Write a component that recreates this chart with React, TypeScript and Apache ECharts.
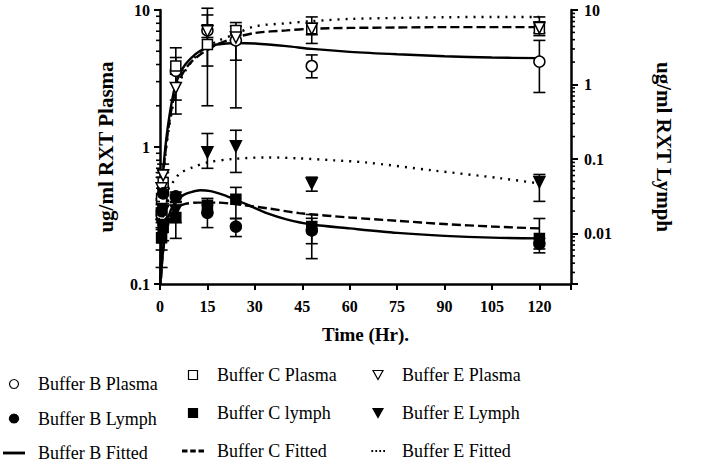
import React, { useEffect, useRef } from 'react';
import * as echarts from 'echarts';

// ---------- data ----------
const times = [0.5, 1, 5, 15, 24, 48, 120];

// Plasma (left axis, ug/ml)
const bPlasma = [0.32, 0.5, 3.6, 7.1, 6.0, 3.9, 4.2];
const bPlasmaLow = [0.25, 0.4, 2.2, 3.9, 4.3, 3.2, 2.5];
const bPlasmaHigh = [0.42, 0.65, 5.3, 10.3, 7.6, 4.7, 6.0];
const cPlasma = [0.42, 0.55, 3.9, 5.6, 7.1, 7.3, 7.3];
const cPlasmaLow = [0.3, 0.45, 3.4, 2.0, 6.0, 5.7, 6.8];
const cPlasmaHigh = [0.6, 0.68, 4.5, 9.2, 8.1, 8.9, 8.9];
const ePlasma = [0.5, 0.62, 2.7, 7.0, 6.3, 7.3, 7.4];
const ePlasmaLow = [0.38, 0.5, 1.74, 6.3, 1.93, 6.6, 6.5];
const ePlasmaHigh = [0.65, 0.75, 3.5, 7.8, 7.6, 8.0, 8.2];

// Lymph (right axis, ug/ml)
const bLymph = [0.02, 0.0345, 0.0315, 0.019, 0.0124, 0.011, 0.0073];
const bLymphLow = [0.012, 0.025, 0.027, 0.012, 0.0091, 0.0046, 0.0062];
const bLymphHigh = [0.028, 0.042, 0.036, 0.024, 0.0159, 0.016, 0.0086];
const cLymph = [0.0088, 0.012, 0.0164, 0.024, 0.0288, 0.0124, 0.0086];
const cLymphLow = [0.0035, 0.008, 0.0086, 0.019, 0.0159, 0.0073, 0.0055];
const cLymphHigh = [0.014, 0.017, 0.0238, 0.0296, 0.0416, 0.018, 0.0159];
const eLymph = [0.013, 0.02, 0.0204, 0.123, 0.148, 0.047, 0.049];
const eLymphLow = [0.006, 0.013, 0.014, 0.075, 0.066, 0.037, 0.027];
const eLymphHigh = [0.022, 0.028, 0.026, 0.22, 0.243, 0.057, 0.062];

// Fitted curves (time, value)
const bFitPlasma = [[0.05, 0.1], [0.3, 0.2], [0.7, 0.45], [1.2, 0.75], [2, 1.15], [3, 1.7], [4, 2.3], [5, 2.9], [6.5, 3.5], [8, 4.0], [10, 4.5], [12.5, 5.0], [15, 5.3], [18, 5.6], [24, 5.75], [30, 5.7], [40, 5.45], [48, 5.2], [60, 4.95], [75, 4.75], [90, 4.6], [105, 4.5], [120, 4.45]];
const cFitPlasma = [[0.05, 0.1], [0.3, 0.18], [0.7, 0.4], [1.2, 0.7], [2, 1.05], [3, 1.55], [4, 2.1], [5, 2.6], [6.5, 3.2], [8, 3.7], [10, 4.2], [12.5, 4.7], [15, 5.1], [18, 5.6], [24, 6.3], [30, 6.8], [40, 7.1], [48, 7.3], [60, 7.4], [75, 7.45], [90, 7.5], [105, 7.5], [120, 7.5]];
const eFitPlasma = [[0.05, 0.1], [0.3, 0.17], [0.7, 0.38], [1.2, 0.65], [2, 1.0], [3, 1.45], [4, 1.95], [5, 2.5], [6.5, 3.1], [8, 3.6], [10, 4.2], [12.5, 4.9], [15, 5.4], [18, 5.9], [24, 6.7], [30, 7.6], [40, 8.0], [48, 8.3], [60, 8.6], [75, 8.75], [90, 8.85], [105, 8.9], [120, 8.9]];
const bFitLymph = [[0.3, 0.0025], [1, 0.006], [2.2, 0.0136], [3.5, 0.021], [5.3, 0.0278], [7.5, 0.033], [9.5, 0.0356], [12.7, 0.038], [16, 0.037], [20, 0.033], [23, 0.0295], [28, 0.024], [34, 0.0186], [40, 0.0155], [48, 0.0132], [60, 0.0117], [75, 0.0102], [90, 0.0093], [105, 0.0088], [120, 0.0086]];
const cFitLymph = [[0.3, 0.0025], [1, 0.006], [2.5, 0.013], [4, 0.019], [5.3, 0.0224], [8, 0.025], [12, 0.026], [18, 0.026], [23, 0.025], [34, 0.0218], [44, 0.0188], [60, 0.0164], [75, 0.0148], [90, 0.0134], [105, 0.0124], [120, 0.0117]];
const eFitLymph = [[0.3, 0.015], [1.5, 0.032], [3, 0.042], [5, 0.055], [6.3, 0.0645], [10.5, 0.078], [15, 0.09], [23, 0.1], [34, 0.105], [44, 0.102], [55, 0.096], [65, 0.09], [86, 0.0705], [108, 0.055], [120, 0.047]];

// axis ticks
const xTicks = [0, 15, 30, 45, 60, 75, 90, 105, 120];
const xMin = 0;
const xMax = 130;
const xInterval = 15;
const leftMin = 0.1;
const leftMax = 10;
const rightMin = 0.0021;
const rightMax = 10;
const leftMinor = [0.2, 0.3, 0.4, 0.5, 0.6, 0.7, 0.8, 0.9, 2, 3, 4, 5, 6, 7, 8, 9];
const rightMinor = [0.003, 0.004, 0.005, 0.006, 0.007, 0.008, 0.009, 0.02, 0.03, 0.04, 0.05, 0.06, 0.07, 0.08, 0.09, 0.2, 0.3, 0.4, 0.5, 0.6, 0.7, 0.8, 0.9, 2, 3, 4, 5, 6, 7, 8, 9];

const FONT = 'Liberation Serif';

// legend icons
const ICON_CIRCLE = 'path://M5,0A5,5,0,1,1,4.999,0Z';
const ICON_SQUARE = 'path://M0,0L10,0L10,10L0,10Z';
const ICON_TRI_DOWN = 'path://M0,0L10,0L5,9Z';
const ICON_SOLID = 'path://M0,0L20,0L20,2.6L0,2.6Z';
const ICON_DASHED = 'path://M0,0L5,0L5,2.6L0,2.6Z M7.5,0L12.5,0L12.5,2.6L7.5,2.6Z M15,0L20,0L20,2.6L15,2.6Z';
const ICON_DOTTED = 'path://M4,0L5.6,0L5.6,1.8L4,1.8Z M7.6,0L9.2,0L9.2,1.8L7.6,1.8Z M11.2,0L12.8,0L12.8,1.8L11.2,1.8Z M14.8,0L16.4,0L16.4,1.8L14.8,1.8Z M0,0L0.01,0L0.01,0.01Z M20,0L20.01,0L20.01,0.01Z';

function pairs(vals: number[]) {
  return times.map((t, i) => [t, vals[i]]);
}
function bars(lo: number[], hi: number[]) {
  return times.map((t, i) => [t, lo[i], hi[i]]);
}

const errorRender = (params: any, api: any) => {
  const x = api.value(0);
  const pLo = api.coord([x, api.value(1)]);
  const pHi = api.coord([x, api.value(2)]);
  const w = 6;
  const st = { stroke: '#000', lineWidth: 1.6 };
  return {
    type: 'group',
    children: [
      { type: 'line', shape: { x1: pLo[0], y1: pLo[1], x2: pHi[0], y2: pHi[1] }, style: st },
      { type: 'line', shape: { x1: pLo[0] - w, y1: pLo[1], x2: pLo[0] + w, y2: pLo[1] }, style: st },
      { type: 'line', shape: { x1: pHi[0] - w, y1: pHi[1], x2: pHi[0] + w, y2: pHi[1] }, style: st },
    ],
  };
};

const minorRender = (dir: number) => (params: any, api: any) => {
  const p = api.coord([api.value(0), api.value(1)]);
  return {
    type: 'line',
    shape: { x1: p[0], y1: p[1], x2: p[0] + dir * 4, y2: p[1] },
    style: { stroke: '#000', lineWidth: 1.6 },
  };
};

function fmtPow10(v: number) {
  const l = Math.log10(v);
  if (Math.abs(l - Math.round(l)) > 1e-6) return '';
  return String(Number(v.toPrecision(6)));
}

export default function App() {
  const ref = useRef<HTMLDivElement>(null);
  useEffect(() => {
    if (!ref.current) return;
    const chart = echarts.init(ref.current, undefined, { renderer: 'svg' });

    const fitLine = (name: string, data: number[][], yIdx: number, type: any) => ({
      name,
      type: 'line',
      yAxisIndex: yIdx,
      data,
      symbol: 'none',
      showSymbol: false,
      smooth: 0.3,
      silent: true,
      z: 2,
      itemStyle: { color: '#000' },
      lineStyle: { color: '#000', width: 2.4, type, cap: type === 'dotted' ? 'round' : 'butt' },
    });
    const errSeries = (data: number[][], yIdx: number) => ({
      type: 'custom',
      yAxisIndex: yIdx,
      data,
      encode: { x: 0, y: [1, 2] },
      renderItem: errorRender,
      silent: true,
      z: 3,
    });
    const scatter = (name: string, data: number[][], yIdx: number, symbol: string, filled: boolean, rotate = 0) => ({
      name,
      type: 'scatter',
      yAxisIndex: yIdx,
      data,
      symbol,
      symbolRotate: rotate,
      symbolSize: symbol === 'rect' ? 10 : 11,
      z: 4,
      itemStyle: { color: filled ? '#000' : '#fff', borderColor: '#000', borderWidth: 1.5, opacity: 1 },
    });

    const legendBase = {
      orient: 'vertical',
      padding: 0,
      itemWidth: 22,
      itemHeight: 9,
      selectedMode: false,
      textStyle: { fontFamily: FONT, fontSize: 18, color: '#000', lineHeight: 20, padding: [0, 0, 0, 8] },
    };
    const symItem = (name: string, icon: string, filled: boolean) => ({
      name,
      icon,
      itemStyle: { color: filled ? '#000' : '#fff', borderColor: '#000', borderWidth: 1.2 },
    });
    const lineItem = (name: string, icon: string) => ({
      name,
      icon,
      itemStyle: { color: '#000', borderWidth: 0 },
    });

    const axisLabelStyle = { fontFamily: FONT, fontWeight: 'bold', fontSize: 16, color: '#000' };

    chart.setOption({
      animation: false,
      backgroundColor: '#fff',
      grid: { left: 160, right: 142, top: 10, bottom: 183 },
      legend: [
        {
          ...legendBase, left: 3, top: 374, itemGap: 14.5,
          data: [symItem('Buffer B Plasma', ICON_CIRCLE, false), symItem('Buffer B Lymph', ICON_CIRCLE, true), lineItem('Buffer B Fitted', ICON_SOLID)],
        },
        {
          ...legendBase, left: 182, top: 365, itemGap: 18,
          data: [symItem('Buffer C Plasma', ICON_SQUARE, false), symItem('Buffer C lymph', ICON_SQUARE, true), lineItem('Buffer C Fitted', ICON_DASHED)],
        },
        {
          ...legendBase, left: 367, top: 365, itemGap: 18,
          data: [symItem('Buffer E Plasma', ICON_TRI_DOWN, false), symItem('Buffer E Lymph', ICON_TRI_DOWN, true), lineItem('Buffer E Fitted', ICON_DOTTED)],
        },
      ],
      xAxis: {
        type: 'value',
        min: xMin,
        max: xMax,
        interval: xInterval,
        splitLine: { show: false },
        axisLine: { lineStyle: { color: '#000', width: 2.5 } },
        axisTick: { length: 6, lineStyle: { color: '#000', width: 2 } },
        axisLabel: {
          ...axisLabelStyle,
          margin: 14,
          formatter: (v: number) => (xTicks.indexOf(v) >= 0 ? String(v) : ''),
        },
        name: 'Time (Hr).',
        nameLocation: 'middle',
        nameGap: 41,
        nameTextStyle: { fontFamily: FONT, fontWeight: 'bold', fontSize: 19, color: '#000' },
      },
      yAxis: [
        {
          type: 'log',
          logBase: 10,
          min: leftMin,
          max: leftMax,
          position: 'left',
          splitLine: { show: false },
          axisLine: { show: true, lineStyle: { color: '#000', width: 2.5 } },
          axisTick: { show: true, length: 6, lineStyle: { color: '#000', width: 2 } },
          axisLabel: { ...axisLabelStyle, margin: 10, formatter: fmtPow10 },
          name: 'ug/ml RXT Plasma',
          nameLocation: 'middle',
          nameRotate: 90,
          nameGap: 44,
          nameTextStyle: { fontFamily: FONT, fontWeight: 'bold', fontSize: 21, color: '#000' },
        },
        {
          type: 'log',
          logBase: 10,
          min: rightMin,
          max: rightMax,
          position: 'right',
          splitLine: { show: false },
          axisLine: { show: true, lineStyle: { color: '#000', width: 2.5 } },
          axisTick: { show: true, length: 7, lineStyle: { color: '#000', width: 2 } },
          axisLabel: { ...axisLabelStyle, margin: 13, formatter: fmtPow10 },
          name: 'ug/ml RXT Lymph',
          nameLocation: 'middle',
          nameRotate: -90,
          nameGap: 82,
          nameTextStyle: { fontFamily: FONT, fontWeight: 'bold', fontSize: 21, color: '#000' },
        },
      ],
      series: [
        // minor ticks of the log axes
        { type: 'custom', yAxisIndex: 0, data: leftMinor.map((v) => [xMin, v]), renderItem: minorRender(-1), silent: true, z: 5 },
        { type: 'custom', yAxisIndex: 1, data: rightMinor.map((v) => [xMax, v]), renderItem: minorRender(1), silent: true, z: 5 },
        // fitted curves
        fitLine('Buffer B Fitted', bFitPlasma, 0, 'solid'),
        fitLine('Buffer C Fitted', cFitPlasma, 0, [9, 4]),
        fitLine('Buffer E Fitted', eFitPlasma, 0, [2, 6]),
        fitLine('Buffer B Fitted', bFitLymph, 1, 'solid'),
        fitLine('Buffer C Fitted', cFitLymph, 1, [9, 4]),
        fitLine('Buffer E Fitted', eFitLymph, 1, [2, 6]),
        // error bars
        errSeries(bars(bPlasmaLow, bPlasmaHigh), 0),
        errSeries(bars(cPlasmaLow, cPlasmaHigh), 0),
        errSeries(bars(ePlasmaLow, ePlasmaHigh), 0),
        errSeries(bars(bLymphLow, bLymphHigh), 1),
        errSeries(bars(cLymphLow, cLymphHigh), 1),
        errSeries(bars(eLymphLow, eLymphHigh), 1),
        // points
        scatter('Buffer B Plasma', pairs(bPlasma), 0, 'circle', false),
        scatter('Buffer C Plasma', pairs(cPlasma), 0, 'rect', false),
        scatter('Buffer E Plasma', pairs(ePlasma), 0, 'triangle', false, 180),
        scatter('Buffer B Lymph', pairs(bLymph), 1, 'circle', true),
        scatter('Buffer C lymph', pairs(cLymph), 1, 'rect', true),
        scatter('Buffer E Lymph', pairs(eLymph), 1, 'triangle', true, 180),
      ],
    });
    return () => chart.dispose();
  }, []);
  return (
    <div
      ref={ref}
      style={{ position: 'fixed', left: 0, top: 0, width: 713, height: 467, background: '#fff' }}
    />
  );
}
